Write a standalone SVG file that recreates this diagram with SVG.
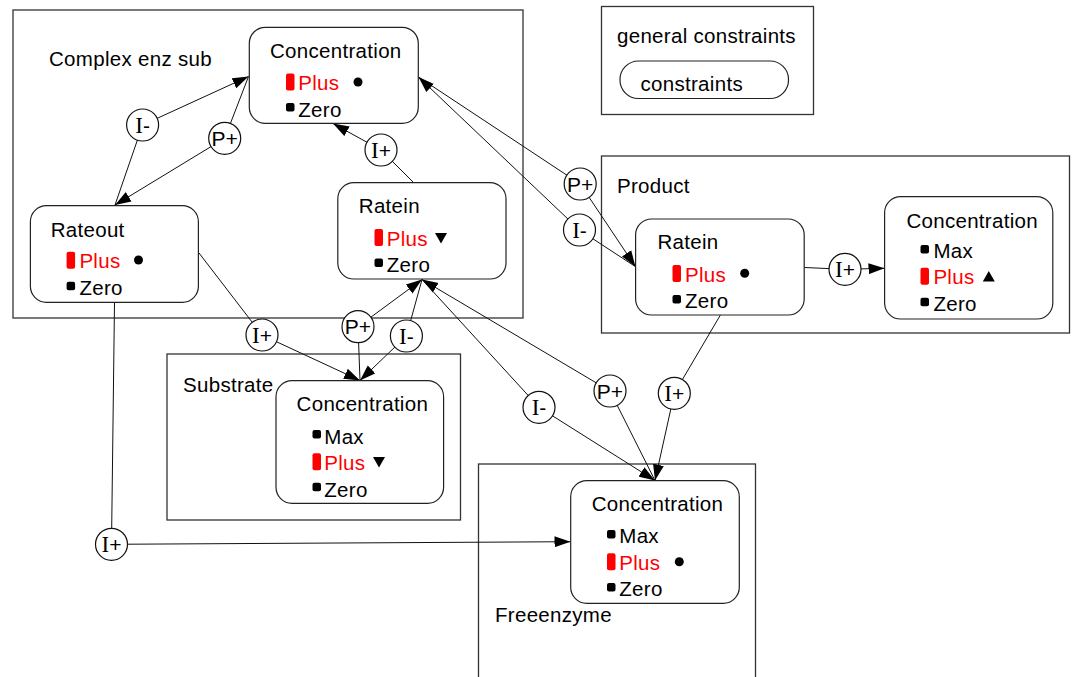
<svg xmlns="http://www.w3.org/2000/svg" width="1073" height="677" viewBox="0 0 1073 677">
<style>
.t{font-family:"Liberation Sans",Arial,sans-serif;font-size:20.5px;fill:#000;letter-spacing:0.3px}
.r{fill:#f00}
.grp{fill:none;stroke:#333;stroke-width:1.3}
.node{fill:#fff;stroke:#222;stroke-width:1.2}
.bar{fill:#f00}
.sq{fill:#000}
.c{fill:#fff;stroke:#111;stroke-width:1.2}
.cl{font-family:"Liberation Sans",Arial,sans-serif;font-size:21px;fill:#000;text-anchor:middle}
.ser{font-family:"Liberation Serif","Times New Roman",serif;font-size:23px}
.ln{stroke:#111;stroke-width:1;fill:none}
.ar{stroke:#111;stroke-width:1;fill:none;marker-end:url(#ah)}
</style>
<defs>
<marker id="ah" markerUnits="userSpaceOnUse" markerWidth="16" markerHeight="12" refX="16" refY="6" orient="auto">
<path d="M0,0.5 L16,6 L0,11.5 z" fill="#000"/>
</marker>
</defs>

<g id="groups">
<rect id="g-complex" class="grp" x="13" y="10" width="510" height="308"/>
<text class="t" x="49" y="66">Complex enz sub</text>
<rect id="g-general" class="grp" x="601.5" y="6.5" width="212" height="108"/>
<text class="t" x="617" y="43">general constraints</text>
<rect id="g-product" class="grp" x="601.5" y="156" width="468" height="177"/>
<text class="t" x="617" y="193">Product</text>
<rect id="g-substrate" class="grp" x="167" y="354" width="293.5" height="166"/>
<text class="t" x="183" y="392">Substrate</text>
<rect id="g-free" class="grp" x="478.5" y="464" width="277" height="220"/>
<text class="t" x="495" y="622">Freeenzyme</text>
</g>

<g id="connectors">
<line class="ln" x1="115" y1="205" x2="142.6" y2="125"/>
<line class="ar" x1="142.6" y1="125" x2="248.5" y2="76.5"/>
<line class="ln" x1="248.5" y1="76.5" x2="224.7" y2="138.3"/>
<line class="ar" x1="224.7" y1="138.3" x2="115" y2="205"/>
<line class="ln" x1="414" y1="183" x2="381" y2="150"/>
<line class="ar" x1="381" y1="150" x2="333" y2="123.5"/>
<line class="ln" x1="199" y1="253" x2="262" y2="335"/>
<line class="ar" x1="262" y1="335" x2="360" y2="380.5"/>
<line class="ln" x1="360" y1="380.5" x2="358" y2="326.7"/>
<line class="ar" x1="358" y1="326.7" x2="422" y2="279.5"/>
<line class="ln" x1="422" y1="279.5" x2="406.4" y2="336"/>
<line class="ar" x1="406.4" y1="336" x2="360" y2="380.5"/>
<line class="ln" x1="422" y1="279.5" x2="539" y2="407.3"/>
<line class="ar" x1="539" y1="407.3" x2="655" y2="480.5"/>
<line class="ln" x1="655" y1="480.5" x2="610" y2="391"/>
<line class="ar" x1="610" y1="391" x2="422" y2="279.5"/>
<line class="ln" x1="720.4" y1="315" x2="674.3" y2="393.3"/>
<line class="ar" x1="674.3" y1="393.3" x2="655" y2="480.5"/>
<line class="ln" x1="114.5" y1="302" x2="111.5" y2="544.3"/>
<line class="ar" x1="111.5" y1="544.3" x2="570.5" y2="541.7"/>
<line class="ln" x1="418.5" y1="77" x2="580.2" y2="184"/>
<line class="ar" x1="580.2" y1="184" x2="635.5" y2="266.7"/>
<line class="ln" x1="635.5" y1="266.7" x2="579.5" y2="230"/>
<line class="ar" x1="579.5" y1="230" x2="418.5" y2="77"/>
<line class="ln" x1="804.5" y1="267.5" x2="845" y2="269.3"/>
<line class="ar" x1="845" y1="269.3" x2="884.5" y2="268.3"/>
</g>

<g id="n-constraints">
<rect class="node" x="620" y="61" width="168.5" height="37.5" rx="18.5"/>
<text class="t" x="640.5" y="90.5">constraints</text>
</g>

<g id="n-complex-conc">
<rect class="node" x="249.3" y="27.3" width="169" height="96" rx="16"/>
<text class="t" x="270" y="58.3">Concentration</text>
<rect class="bar" x="286" y="73.5" width="8.5" height="17" rx="2"/>
<text class="t r" x="298.3" y="90">Plus</text>
<circle cx="358" cy="82" r="4.5"/>
<rect class="sq" x="286" y="103" width="8.5" height="8.5" rx="2"/>
<text class="t" x="298.3" y="116.7">Zero</text>
</g>

<g id="n-rateout">
<rect class="node" x="30.4" y="205.7" width="168" height="96.6" rx="16"/>
<text class="t" x="50.7" y="236.7">Rateout</text>
<rect class="bar" x="66.6" y="251.7" width="8.5" height="17" rx="2"/>
<text class="t r" x="79.4" y="268.3">Plus</text>
<circle cx="138.5" cy="260" r="4.5"/>
<rect class="sq" x="66.6" y="281.7" width="8.5" height="8.5" rx="2"/>
<text class="t" x="79.4" y="295">Zero</text>
</g>

<g id="n-complex-ratein">
<rect class="node" x="337.8" y="182.7" width="168.2" height="96.3" rx="16"/>
<text class="t" x="358.8" y="213.3">Ratein</text>
<rect class="bar" x="374.5" y="229" width="8.5" height="17" rx="2"/>
<text class="t r" x="386.8" y="245.7">Plus</text>
<polygon points="435,233 447,233 441,243.5" fill="#000"/>
<rect class="sq" x="374.5" y="258.5" width="8.5" height="8.5" rx="2"/>
<text class="t" x="386.8" y="271.7">Zero</text>
</g>

<g id="n-substrate-conc">
<rect class="node" x="276" y="380.7" width="167.6" height="122.6" rx="16"/>
<text class="t" x="296.6" y="411">Concentration</text>
<rect class="sq" x="312.5" y="430" width="8.5" height="8.5" rx="2"/>
<text class="t" x="324.3" y="444">Max</text>
<rect class="bar" x="312.5" y="453.3" width="8.5" height="17" rx="2"/>
<text class="t r" x="324.3" y="470">Plus</text>
<polygon points="373,457 385,457 379,467.5" fill="#000"/>
<rect class="sq" x="312.5" y="482.7" width="8.5" height="8.5" rx="2"/>
<text class="t" x="324.3" y="496.7">Zero</text>
</g>

<g id="n-product-ratein">
<rect class="node" x="635.6" y="219" width="168.6" height="96" rx="16"/>
<text class="t" x="657.4" y="249.3">Ratein</text>
<rect class="bar" x="672.5" y="265" width="8.5" height="17" rx="2"/>
<text class="t r" x="685" y="281.7">Plus</text>
<circle cx="744.7" cy="273.3" r="4.5"/>
<rect class="sq" x="672.5" y="295" width="8.5" height="8.5" rx="2"/>
<text class="t" x="685" y="308.3">Zero</text>
</g>

<g id="n-product-conc">
<rect class="node" x="884.6" y="196.7" width="168.2" height="122.3" rx="16"/>
<text class="t" x="906.4" y="228.3">Concentration</text>
<rect class="sq" x="920.5" y="245" width="8.5" height="8.5" rx="2"/>
<text class="t" x="933.4" y="258.3">Max</text>
<rect class="bar" x="920.5" y="267.7" width="8.5" height="17" rx="2"/>
<text class="t r" x="933.4" y="284">Plus</text>
<polygon points="982.8,281.5 994.8,281.5 988.8,271" fill="#000"/>
<rect class="sq" x="920.5" y="297.7" width="8.5" height="8.5" rx="2"/>
<text class="t" x="933.4" y="310.7">Zero</text>
</g>

<g id="n-free-conc">
<rect class="node" x="570.7" y="480.7" width="168.6" height="122.6" rx="16"/>
<text class="t" x="591.7" y="511">Concentration</text>
<rect class="sq" x="607" y="530" width="8.5" height="8.5" rx="2"/>
<text class="t" x="619.3" y="543.3">Max</text>
<rect class="bar" x="607" y="553.3" width="8.5" height="17" rx="2"/>
<text class="t r" x="619.3" y="570">Plus</text>
<circle cx="679.3" cy="561.7" r="4.5"/>
<rect class="sq" x="607" y="583" width="8.5" height="8.5" rx="2"/>
<text class="t" x="619.3" y="595.7">Zero</text>
</g>

<g id="q-im-1"><circle class="c" cx="142.6" cy="125" r="16"/><text class="cl" x="142.6" y="132.5"><tspan class="ser">I</tspan>-</text></g>
<g id="q-pp-1"><circle class="c" cx="224.7" cy="138.3" r="16"/><text class="cl" x="224.7" y="145.8">P+</text></g>
<g id="q-ip-1"><circle class="c" cx="381" cy="150" r="16"/><text class="cl" x="381" y="157.5"><tspan class="ser">I</tspan>+</text></g>
<g id="q-pp-2"><circle class="c" cx="580.2" cy="184" r="16"/><text class="cl" x="580.2" y="191.5">P+</text></g>
<g id="q-im-2"><circle class="c" cx="579.5" cy="230" r="16"/><text class="cl" x="579.5" y="237.5"><tspan class="ser">I</tspan>-</text></g>
<g id="q-ip-2"><circle class="c" cx="845" cy="269.3" r="16"/><text class="cl" x="845" y="276.8"><tspan class="ser">I</tspan>+</text></g>
<g id="q-ip-3"><circle class="c" cx="262" cy="335" r="16"/><text class="cl" x="262" y="342.5"><tspan class="ser">I</tspan>+</text></g>
<g id="q-pp-3"><circle class="c" cx="358" cy="326.7" r="16"/><text class="cl" x="358" y="334.2">P+</text></g>
<g id="q-im-3"><circle class="c" cx="406.4" cy="336" r="16"/><text class="cl" x="406.4" y="343.5"><tspan class="ser">I</tspan>-</text></g>
<g id="q-im-4"><circle class="c" cx="539" cy="407.3" r="16"/><text class="cl" x="539" y="414.8"><tspan class="ser">I</tspan>-</text></g>
<g id="q-pp-4"><circle class="c" cx="610" cy="391" r="16"/><text class="cl" x="610" y="398.5">P+</text></g>
<g id="q-ip-4"><circle class="c" cx="674.3" cy="393.3" r="16"/><text class="cl" x="674.3" y="400.8"><tspan class="ser">I</tspan>+</text></g>
<g id="q-ip-5"><circle class="c" cx="111.5" cy="544.3" r="16"/><text class="cl" x="111.5" y="551.8"><tspan class="ser">I</tspan>+</text></g>
</svg>
